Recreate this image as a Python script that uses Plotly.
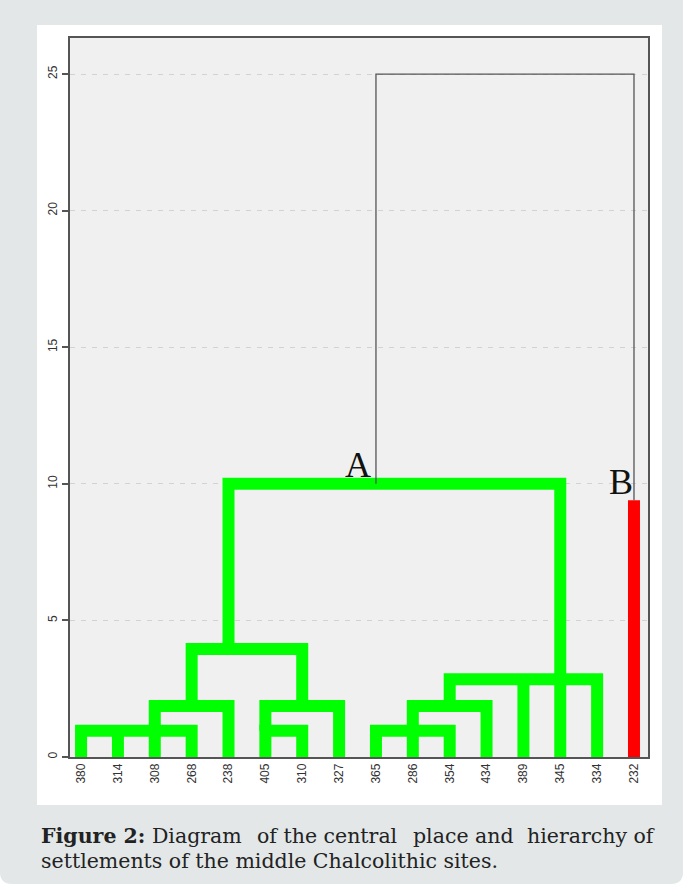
import plotly.graph_objects as go

# ---------------- data ----------------
leaf_labels = ["380", "314", "308", "268", "238", "405", "310", "327",
               "365", "286", "354", "434", "389", "345", "334", "232"]

node_names = ["n1", "n2", "n3", "n4", "n5", "n6", "n7", "n8", "A"]
node_children = [
    ["380", "314", "308", "268"],
    ["n1", "238"],
    ["405", "310"],
    ["n3", "327"],
    ["n2", "n4"],
    ["365", "286", "354"],
    ["n6", "434"],
    ["n7", "389", "345", "334"],
    ["n5", "n8"],
]
node_heights = [0.96, 1.87, 0.96, 1.87, 3.95, 0.96, 1.87, 2.85, 10.0]
# leaf the node's stem rises from (None = centre of its span)
node_anchor = ["308", None, "405", None, "238", None, None, "345", "365"]

root_height = 25.0
b_leaf = "232"
b_branch_height = 9.4

y_ticks = [0, 5, 10, 15, 20, 25]
caption_bold = "Figure 2:"
caption_line1_chunks = [" Diagram", "of the central", "place and", "hierarchy of"]
caption_line2 = "settlements of the middle Chalcolithic sites."

# ---------------- layout helpers ----------------
W, H = 683, 887
L, R, T, B = 70, 648, 38, 757
def PX(px):
    return (px - L) / (R - L)
def PY(py):
    return (B - py) / (B - T)

GREEN = "#00ff00"
RED = "#ff0000"
DARK = "#555555"

pos = {lab: i for i, lab in enumerate(leaf_labels)}
base = {lab: 0.0 for lab in leaf_labels}
for name, ch, h, anc in zip(node_names, node_children, node_heights, node_anchor):
    xs = [pos[c] for c in ch]
    pos[name] = pos[anc] if anc is not None else (min(xs) + max(xs)) / 2
    base[name] = h

fig = go.Figure()

for name, ch, h in zip(node_names, node_children, node_heights):
    ordered = sorted(ch, key=lambda c: pos[c])
    first, last = ordered[0], ordered[-1]
    fig.add_trace(go.Scatter(
        x=[pos[first], pos[first], pos[last], pos[last]],
        y=[base[first], h, h, base[last]],
        mode="lines", line=dict(color=GREEN, width=12),
        hoverinfo="skip", showlegend=False))
    for c in ordered[1:-1]:
        fig.add_trace(go.Scatter(
            x=[pos[c], pos[c]], y=[base[c], h],
            mode="lines", line=dict(color=GREEN, width=12),
            hoverinfo="skip", showlegend=False))

# cluster B (singleton)
fig.add_trace(go.Scatter(
    x=[pos[b_leaf], pos[b_leaf]], y=[0, b_branch_height],
    mode="lines", line=dict(color=RED, width=12),
    hoverinfo="skip", showlegend=False))

# root link (thin)
fig.add_trace(go.Scatter(
    x=[pos["A"], pos["A"], pos[b_leaf], pos[b_leaf]],
    y=[base["A"], root_height, root_height, b_branch_height],
    mode="lines", line=dict(color=DARK, width=1.3),
    hoverinfo="skip", showlegend=False))

x0 = -0.30
x1 = 15.38
y1 = 26.32

fig.update_layout(
    width=W, height=H,
    margin=dict(l=L, r=W - R, t=T, b=H - B),
    paper_bgcolor="#ffffff",
    plot_bgcolor="#f0f0f0",
    font=dict(family="Liberation Sans, Arial", size=12, color="#333333"),
    xaxis=dict(range=[x0, x1], tickmode="array",
               tickvals=list(range(len(leaf_labels))), ticktext=leaf_labels,
               tickangle=-90, ticks="", showgrid=False, zeroline=False,
               showline=True, mirror=True, linecolor=DARK, linewidth=1.5,
               tickfont=dict(size=12, color="#333333")),
    yaxis=dict(range=[0, y1], tickmode="array", tickvals=y_ticks,
               tickangle=-90, ticks="outside", ticklen=6, tickwidth=1.5,
               tickcolor=DARK, showgrid=True, gridcolor="#d2d2d2",
               griddash="5px,6px", gridwidth=1, zeroline=False,
               showline=True, mirror=True, linecolor=DARK, linewidth=1.5,
               tickfont=dict(size=12, color="#333333")),
)

# background frame: rounded grey box, white panel, grey plot area
def rounded(xa, ya, xb, yb, r):
    return (f"M {PX(xa + r)},{PY(ya)} L {PX(xb - r)},{PY(ya)} "
            f"Q {PX(xb)},{PY(ya)} {PX(xb)},{PY(ya + r)} "
            f"L {PX(xb)},{PY(yb - r)} Q {PX(xb)},{PY(yb)} {PX(xb - r)},{PY(yb)} "
            f"L {PX(xa + r)},{PY(yb)} Q {PX(xa)},{PY(yb)} {PX(xa)},{PY(yb - r)} "
            f"L {PX(xa)},{PY(ya + r)} Q {PX(xa)},{PY(ya)} {PX(xa + r)},{PY(ya)} Z")

fig.add_shape(type="path", xref="paper", yref="paper", layer="below",
              path=rounded(0, -10, 683, 884, 12),
              fillcolor="#e3e7e8", line=dict(width=0))
fig.add_shape(type="rect", xref="paper", yref="paper", layer="below",
              x0=PX(37), x1=PX(662), y0=PY(805), y1=PY(25),
              fillcolor="#ffffff", line=dict(width=0))
fig.add_shape(type="rect", xref="paper", yref="paper", layer="below",
              x0=0, x1=1, y0=0, y1=1,
              fillcolor="#f0f0f0", line=dict(width=0))

# cluster labels
fig.add_annotation(x=pos["A"] - 0.08, y=base["A"], xref="x", yref="y",
                   text="A", showarrow=False, xanchor="right", yanchor="bottom",
                   yshift=-3,
                   font=dict(family="Liberation Serif", size=36, color="#111111"))
fig.add_annotation(x=pos[b_leaf] + 0.04, y=b_branch_height, xref="x", yref="y",
                   text="B", showarrow=False, xanchor="right", yanchor="bottom",
                   yshift=-4,
                   font=dict(family="Liberation Serif", size=36, color="#111111"))

# caption (line 1 justified across the panel in chunks)
cap_font = dict(family="DejaVu Serif", size=20.5, color="#222222")
chunk_x = [39, 255, 411, 657]
chunk_anchor = ["left", "left", "left", "right"]
for i, (txt, cx, anc) in enumerate(zip(caption_line1_chunks, chunk_x, chunk_anchor)):
    t = f"<b>{caption_bold}</b>{txt}" if i == 0 else txt
    fig.add_annotation(x=PX(cx), y=PY(836), xref="paper", yref="paper",
                       text=t, showarrow=False, xanchor=anc, yanchor="middle",
                       font=cap_font)
fig.add_annotation(x=PX(39), y=PY(861), xref="paper", yref="paper",
                   text=caption_line2, showarrow=False,
                   xanchor="left", yanchor="middle", font=cap_font)

fig.write_html("out.html", config={"displayModeBar": False},
               post_script="document.body.style.margin='0';")
